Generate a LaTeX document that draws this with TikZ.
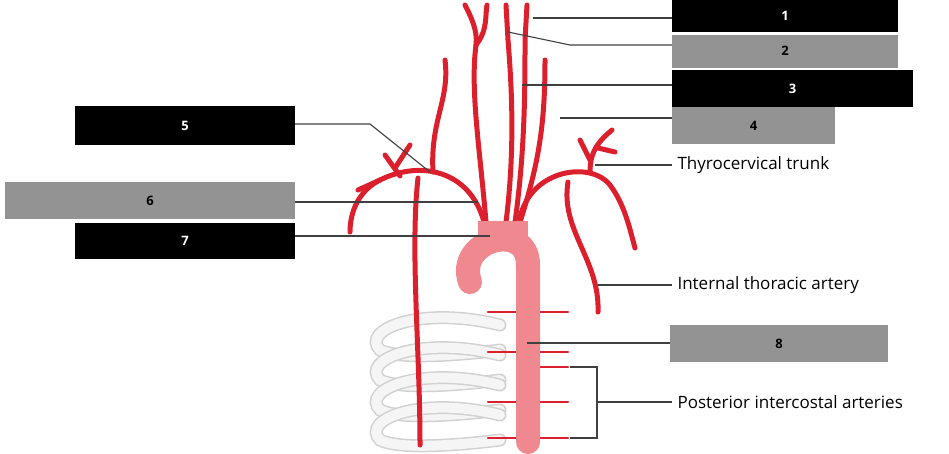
\documentclass[tikz,border=0pt]{standalone}
\usepackage{fontspec}
\setmainfont{Open Sans}
\definecolor{artred}{HTML}{DC1F2D}
\definecolor{aortap}{HTML}{F08890}
\begin{document}
\begin{tikzpicture}[x=1pt,y=-1pt,
 blk/.style={fill=black,text=white,font=\bfseries\fontsize{13}{15}\selectfont},
 gry/.style={fill=gray!85,text=black,font=\bfseries\fontsize{13}{15}\selectfont},
 lead/.style={draw=black!75,line width=1.1pt},
 art/.style={draw=artred,line width=5pt,line cap=round},
 lbl/.style={anchor=west,font=\fontsize{17}{20}\selectfont}]
\useasboundingbox (0,0) rectangle (949,453);
% ribs
\foreach \y in {325,355,385,415}{
 \draw[draw=black!18,line width=13pt,line cap=round] (500,\y) .. controls (420,\y-20) and (360,\y+5) .. (380,\y+25) .. controls (400,\y+35) and (460,\y+30) .. (500,\y+25);
 \draw[draw=black!4,line width=10pt,line cap=round] (500,\y) .. controls (420,\y-20) and (360,\y+5) .. (380,\y+25) .. controls (400,\y+35) and (460,\y+30) .. (500,\y+25);
}
% vessels
\draw[art] (486,222) .. controls (480,150) and (470,90) .. (476,45) .. controls (478,30) and (470,15) .. (465,5);
\draw[art] (476,45) .. controls (488,30) and (485,15) .. (487,5);
\draw[art] (506,222) .. controls (515,150) and (512,90) .. (508,40) -- (506,5);
\draw[art] (515,222) .. controls (525,150) and (525,90) .. (525,40) -- (527,5);
\draw[art] (520,222) .. controls (540,160) and (545,120) .. (545,60);
\draw[art] (433,172) .. controls (430,120) and (450,100) .. (445,60);
\draw[art] (484,222) .. controls (470,170) and (420,160) .. (380,180) .. controls (360,190) and (350,210) .. (350,232);
\draw[art] (418,178) .. controls (410,250) and (420,350) .. (420,445);
\draw[art] (400,176) -- (385,155);
\draw[art] (395,168) -- (410,145);
\draw[art] (380,180) -- (358,190);
\draw[art] (520,218) .. controls (530,170) and (590,160) .. (610,185) .. controls (625,205) and (630,230) .. (635,248);
\draw[art] (568,182) .. controls (560,230) and (600,260) .. (598,312);
\draw[art] (590,172) .. controls (590,150) and (600,140) .. (612,130);
\draw[art] (590,160) -- (580,140);
\draw[art] (598,148) -- (615,152);
\foreach \y in {312,352,402,438}{
 \draw[art,line width=2.5pt] (488,\y) -- (568,\y);}
\draw[art,line width=2.5pt] (540,367) -- (568,367);
% aorta
\draw[draw=aortap,line width=24pt,line cap=round] (470,282) .. controls (455,240) and (528,220) .. (528,265) -- (528,442);
\draw[draw=aortap,line width=22pt] (478,232) -- (528,232);
% leaders
\draw[lead] (533,18) -- (672,18);
\draw[lead] (508,32) -- (570,45) -- (672,45);
\draw[lead] (522,85) -- (672,85);
\draw[lead] (560,118) -- (672,118);
\draw[lead] (295,124) -- (370,124) -- (430,172);
\draw[lead] (295,202) -- (478,202);
\draw[lead] (295,236) -- (490,236);
\draw[lead] (595,165) -- (672,165);
\draw[lead] (598,285) -- (672,285);
\draw[lead] (527,343) -- (670,343);
\draw[lead] (570,367) -- (597,367) -- (597,438) -- (570,438);
\draw[lead] (597,402) -- (672,402);
% boxes
\node[blk,minimum width=226pt,minimum height=32pt] (b1) at (785,16) {1};
\node[gry,minimum width=226pt,minimum height=33pt] (b2) at (785,51) {2};
\node[blk,minimum width=241pt,minimum height=37pt] (b3) at (792.5,88.5) {3};
\node[gry,minimum width=163pt,minimum height=37pt] (b4) at (753.5,125.5) {4};
\node[blk,minimum width=220pt,minimum height=39pt] (b5) at (185,125.5) {5};
\node[gry,minimum width=290pt,minimum height=37pt] (b6) at (150,200.5) {6};
\node[blk,minimum width=220pt,minimum height=36pt] (b7) at (185,241) {7};
\node[gry,minimum width=218pt,minimum height=37pt] (b8) at (779,343.5) {8};
\node[lbl] (t1) at (674,165) {Thyrocervical trunk};
\node[lbl] (t2) at (674,285) {Internal thoracic artery};
\node[lbl] (t3) at (674,402) {Posterior intercostal arteries};
\end{tikzpicture}
\end{document}
